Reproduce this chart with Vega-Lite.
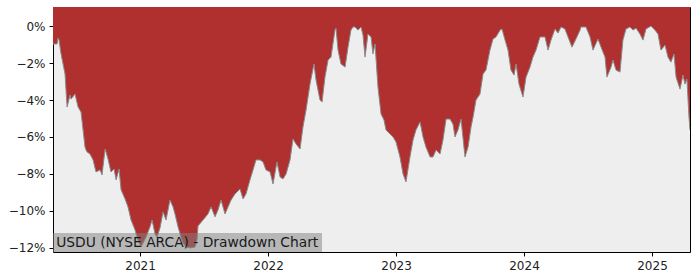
{
"$schema": "https://vega.github.io/schema/vega-lite/v6.json",
"width": 637, "height": 245,
"autosize": {"type": "none"},
"padding": {"left": 53, "top": 7, "right": 10, "bottom": 28},
"background": "white",
"config": {"view": {"fill": "#eeeeee", "stroke": "black", "strokeWidth": 1}, "font": "DejaVu Sans"},
"data": {"values": [
{"t":2020.320,"dd":-0.97},{"t":2020.352,"dd":-0.97},{"t":2020.359,"dd":-0.65},{"t":2020.367,"dd":-0.76},{"t":2020.383,"dd":-1.51},{"t":2020.414,"dd":-2.59},{"t":2020.430,"dd":-4.38},{"t":2020.453,"dd":-3.73},{"t":2020.461,"dd":-3.95},{"t":2020.492,"dd":-3.68},{"t":2020.516,"dd":-4.38},{"t":2020.539,"dd":-4.65},{"t":2020.570,"dd":-6.54},{"t":2020.578,"dd":-6.70},{"t":2020.586,"dd":-6.81},{"t":2020.609,"dd":-6.92},{"t":2020.633,"dd":-7.24},{"t":2020.656,"dd":-7.89},{"t":2020.688,"dd":-7.78},{"t":2020.703,"dd":-8.05},{"t":2020.727,"dd":-6.65},{"t":2020.750,"dd":-7.19},{"t":2020.773,"dd":-7.89},{"t":2020.797,"dd":-7.73},{"t":2020.813,"dd":-8.32},{"t":2020.836,"dd":-7.73},{"t":2020.852,"dd":-8.86},{"t":2020.883,"dd":-9.35},{"t":2020.906,"dd":-9.78},{"t":2020.930,"dd":-10.49},{"t":2020.961,"dd":-11.03},{"t":2020.984,"dd":-11.57},{"t":2021.008,"dd":-11.95},{"t":2021.047,"dd":-11.41},{"t":2021.078,"dd":-10.86},{"t":2021.094,"dd":-10.49},{"t":2021.117,"dd":-11.24},{"t":2021.133,"dd":-11.41},{"t":2021.156,"dd":-10.92},{"t":2021.180,"dd":-10.05},{"t":2021.203,"dd":-10.49},{"t":2021.234,"dd":-9.41},{"t":2021.258,"dd":-9.78},{"t":2021.273,"dd":-10.16},{"t":2021.297,"dd":-10.86},{"t":2021.320,"dd":-11.41},{"t":2021.336,"dd":-11.73},{"t":2021.359,"dd":-11.95},{"t":2021.391,"dd":-12.0},{"t":2021.430,"dd":-11.95},{"t":2021.445,"dd":-11.57},{"t":2021.453,"dd":-10.81},{"t":2021.492,"dd":-10.49},{"t":2021.531,"dd":-10.16},{"t":2021.555,"dd":-9.78},{"t":2021.586,"dd":-10.32},{"t":2021.609,"dd":-9.95},{"t":2021.633,"dd":-9.41},{"t":2021.664,"dd":-10.16},{"t":2021.688,"dd":-9.78},{"t":2021.711,"dd":-9.41},{"t":2021.742,"dd":-9.08},{"t":2021.781,"dd":-8.81},{"t":2021.805,"dd":-9.35},{"t":2021.828,"dd":-9.08},{"t":2021.859,"dd":-8.32},{"t":2021.883,"dd":-7.78},{"t":2021.906,"dd":-7.24},{"t":2021.938,"dd":-7.24},{"t":2021.961,"dd":-7.35},{"t":2021.984,"dd":-7.78},{"t":2022.016,"dd":-7.89},{"t":2022.039,"dd":-8.54},{"t":2022.070,"dd":-7.35},{"t":2022.094,"dd":-8.16},{"t":2022.117,"dd":-8.27},{"t":2022.141,"dd":-8.0},{"t":2022.172,"dd":-7.24},{"t":2022.195,"dd":-6.11},{"t":2022.219,"dd":-6.38},{"t":2022.250,"dd":-6.65},{"t":2022.273,"dd":-5.46},{"t":2022.297,"dd":-4.54},{"t":2022.328,"dd":-3.14},{"t":2022.359,"dd":-2.05},{"t":2022.375,"dd":-2.92},{"t":2022.406,"dd":-4.0},{"t":2022.422,"dd":-4.11},{"t":2022.445,"dd":-2.76},{"t":2022.469,"dd":-1.84},{"t":2022.492,"dd":-1.68},{"t":2022.523,"dd":-0.22},{"t":2022.531,"dd":-0.11},{"t":2022.547,"dd":-1.30},{"t":2022.570,"dd":-2.05},{"t":2022.602,"dd":-2.22},{"t":2022.625,"dd":-1.14},{"t":2022.648,"dd":-0.22},{"t":2022.664,"dd":-0.05},{"t":2022.680,"dd":-0.05},{"t":2022.703,"dd":-0.22},{"t":2022.727,"dd":-0.05},{"t":2022.742,"dd":-0.49},{"t":2022.758,"dd":-1.68},{"t":2022.781,"dd":-0.43},{"t":2022.805,"dd":-0.59},{"t":2022.820,"dd":-1.51},{"t":2022.836,"dd":-0.97},{"t":2022.859,"dd":-3.30},{"t":2022.883,"dd":-4.76},{"t":2022.906,"dd":-5.08},{"t":2022.922,"dd":-5.62},{"t":2022.953,"dd":-5.84},{"t":2022.977,"dd":-6.0},{"t":2023.000,"dd":-6.27},{"t":2023.031,"dd":-7.08},{"t":2023.055,"dd":-8.0},{"t":2023.078,"dd":-8.43},{"t":2023.109,"dd":-7.08},{"t":2023.133,"dd":-6.16},{"t":2023.156,"dd":-5.62},{"t":2023.188,"dd":-5.19},{"t":2023.211,"dd":-6.0},{"t":2023.234,"dd":-6.54},{"t":2023.266,"dd":-7.08},{"t":2023.289,"dd":-7.08},{"t":2023.313,"dd":-6.70},{"t":2023.344,"dd":-6.92},{"t":2023.367,"dd":-6.16},{"t":2023.391,"dd":-5.03},{"t":2023.422,"dd":-5.03},{"t":2023.445,"dd":-5.30},{"t":2023.461,"dd":-6.0},{"t":2023.484,"dd":-5.62},{"t":2023.508,"dd":-5.03},{"t":2023.539,"dd":-7.08},{"t":2023.563,"dd":-6.54},{"t":2023.586,"dd":-5.46},{"t":2023.602,"dd":-4.92},{"t":2023.625,"dd":-4.0},{"t":2023.656,"dd":-3.68},{"t":2023.680,"dd":-2.59},{"t":2023.703,"dd":-2.38},{"t":2023.734,"dd":-1.30},{"t":2023.758,"dd":-0.70},{"t":2023.781,"dd":-0.59},{"t":2023.813,"dd":-0.22},{"t":2023.828,"dd":-0.16},{"t":2023.852,"dd":-0.76},{"t":2023.875,"dd":-1.30},{"t":2023.898,"dd":-2.38},{"t":2023.922,"dd":-2.65},{"t":2023.938,"dd":-2.05},{"t":2023.961,"dd":-3.14},{"t":2023.992,"dd":-3.84},{"t":2024.016,"dd":-2.76},{"t":2024.047,"dd":-2.22},{"t":2024.070,"dd":-1.68},{"t":2024.094,"dd":-1.30},{"t":2024.125,"dd":-0.59},{"t":2024.164,"dd":-0.59},{"t":2024.188,"dd":-1.30},{"t":2024.211,"dd":-0.76},{"t":2024.242,"dd":-0.16},{"t":2024.266,"dd":-0.38},{"t":2024.289,"dd":-0.05},{"t":2024.320,"dd":-0.16},{"t":2024.344,"dd":-0.59},{"t":2024.375,"dd":-1.14},{"t":2024.406,"dd":-0.70},{"t":2024.438,"dd":-0.22},{"t":2024.445,"dd":-0.05},{"t":2024.484,"dd":-0.05},{"t":2024.516,"dd":-0.59},{"t":2024.539,"dd":-1.30},{"t":2024.578,"dd":-0.70},{"t":2024.602,"dd":-1.14},{"t":2024.633,"dd":-1.68},{"t":2024.648,"dd":-2.76},{"t":2024.680,"dd":-2.22},{"t":2024.695,"dd":-1.84},{"t":2024.719,"dd":-2.38},{"t":2024.750,"dd":-2.49},{"t":2024.773,"dd":-0.76},{"t":2024.797,"dd":-0.16},{"t":2024.828,"dd":-0.05},{"t":2024.852,"dd":-0.22},{"t":2024.875,"dd":-0.11},{"t":2024.906,"dd":-0.43},{"t":2024.930,"dd":-0.76},{"t":2024.953,"dd":-0.16},{"t":2024.992,"dd":0},{"t":2025.023,"dd":-0.22},{"t":2025.047,"dd":-0.43},{"t":2025.070,"dd":-1.30},{"t":2025.102,"dd":-1.03},{"t":2025.125,"dd":-1.68},{"t":2025.148,"dd":-1.95},{"t":2025.172,"dd":-1.51},{"t":2025.188,"dd":-2.76},{"t":2025.219,"dd":-3.41},{"t":2025.242,"dd":-2.65},{"t":2025.258,"dd":-3.14},{"t":2025.273,"dd":-2.86},{"t":2025.289,"dd":-4.92},{"t":2025.297,"dd":-5.62}
]},
"layer": [
{"mark": {"type": "area", "color": "#b03030", "clip": true},
 "encoding": {
  "x": {"field": "t", "type": "quantitative", "scale": {"domain": [2020.32, 2025.297], "nice": false, "zero": false},
        "axis": {"values": [2021, 2022, 2023, 2024, 2025], "format": "d", "title": null, "grid": false, "domain": false, "tickColor": "black", "tickSize": 4, "labelFontSize": 12, "labelColor": "#222222", "labelPadding": 4, "labelFlush": false}},
  "y": {"field": "dd", "type": "quantitative", "scale": {"domain": [-12.22, 1.03], "nice": false, "zero": false},
        "axis": {"values": [0, -2, -4, -6, -8, -10, -12], "labelExpr": "replace(format(datum.value, 'd'), '-', '\u2212') + '%'", "title": null, "grid": false, "domain": false, "tickColor": "black", "tickSize": 4, "labelFontSize": 12, "labelColor": "#222222", "labelPadding": 4}},
  "y2": {"datum": 1.03}
 }},
{"mark": {"type": "line", "color": "#8a8a8a", "strokeWidth": 1, "clip": true},
 "encoding": {"x": {"field": "t", "type": "quantitative"}, "y": {"field": "dd", "type": "quantitative"}}},
{"data": {"values": [{"x0": 2020.32, "x1": 2022.422, "y0": -12.22, "y1": -11.19}]},
 "mark": {"type": "rect", "color": "#808080", "opacity": 0.5, "clip": true},
 "encoding": {"x": {"field": "x0", "type": "quantitative"}, "x2": {"field": "x1"}, "y": {"field": "y0", "type": "quantitative"}, "y2": {"field": "y1"}}},
{"data": {"values": [{"x": 2020.345, "y": -11.72, "label": "USDU (NYSE ARCA) - Drawdown Chart"}]},
 "mark": {"type": "text", "align": "left", "baseline": "middle", "fontSize": 13.8, "color": "#1a1a1a"},
 "encoding": {"x": {"field": "x", "type": "quantitative"}, "y": {"field": "y", "type": "quantitative"}, "text": {"field": "label"}}}
]
}
